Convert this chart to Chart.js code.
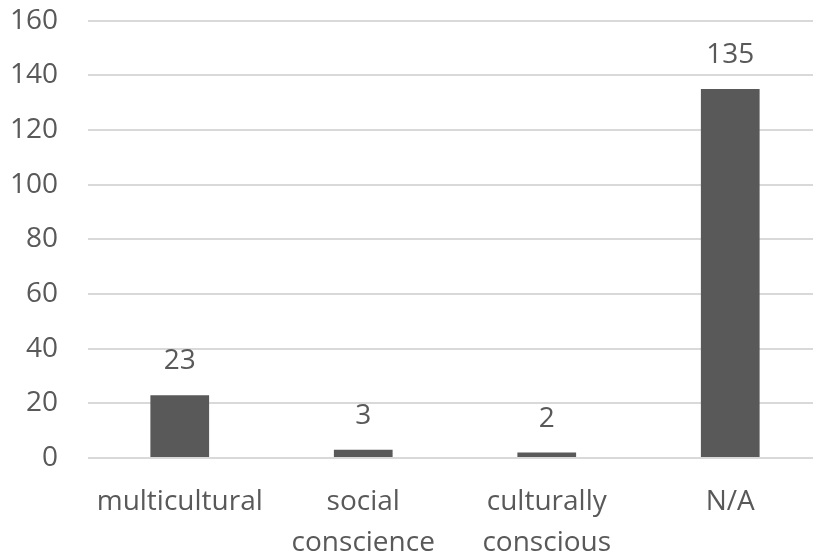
<!DOCTYPE html>
<html>
<head>
<meta charset="utf-8">
<script src="https://cdn.jsdelivr.net/npm/chart.js@4/dist/chart.umd.min.js"></script>
<style>
  html, body { margin: 0; padding: 0; background: #ffffff; overflow: hidden; }
  #wrap { width: 813px; height: 556px; overflow: hidden; position: relative; }
  #box { width: 822px; height: 582px; position: absolute; left: 0; top: -26px; }
</style>
</head>
<body>
<div id="wrap"><div id="box"><canvas id="chart"></canvas></div></div>
<script>
// Survey responses by category
const categories = [['multicultural'], ['social', 'conscience'], ['culturally', 'conscious'], ['N/A']];
const counts = [23, 3, 2, 135];
const yTicks = [0, 20, 40, 60, 80, 100, 120, 140, 160];

const textColor = '#595959';
const fontFamily = '"Open Sans", Lato, sans-serif';

// Draws each bar's value above it
const valueLabels = {
  id: 'valueLabels',
  afterDatasetsDraw(chart) {
    const ctx = chart.ctx;
    const meta = chart.getDatasetMeta(0);
    ctx.save();
    ctx.fillStyle = textColor;
    ctx.font = '28px ' + fontFamily;
    ctx.textAlign = 'center';
    ctx.textBaseline = 'middle';
    meta.data.forEach((bar, i) => {
      ctx.fillText(String(counts[i]), bar.x, bar.y - 34);
    });
    ctx.restore();
  }
};

new Chart(document.getElementById('chart'), {
  type: 'bar',
  data: {
    labels: categories,
    datasets: [{
      data: counts,
      backgroundColor: '#595959',
      borderWidth: 0,
      categoryPercentage: 1,
      barPercentage: 0.32
    }]
  },
  options: {
    responsive: true,
    maintainAspectRatio: false,
    animation: false,
    layout: { padding: { top: 0, right: 0, left: 0, bottom: 0 } },
    plugins: { legend: { display: false }, tooltip: { enabled: false } },
    scales: {
      x: {
        grid: { display: false },
        border: { display: false },
        ticks: {
          color: textColor,
          font: { family: fontFamily, size: 28, lineHeight: 1.46 },
          padding: 16,
          maxRotation: 0,
          autoSkip: false
        },
        afterFit(scale) { scale.height = 98; }
      },
      y: {
        min: 0,
        max: 160,
        afterBuildTicks(scale) { scale.ticks = yTicks.map(v => ({ value: v })); },
        grid: { color: '#d9d9d9', lineWidth: 2, drawTicks: false },
        border: { display: false },
        ticks: {
          color: textColor,
          font: { family: fontFamily, size: 28 },
          padding: 30
        },
        afterFit(scale) { scale.width = 88; }
      }
    }
  },
  plugins: [valueLabels]
});
</script>
</body>
</html>
